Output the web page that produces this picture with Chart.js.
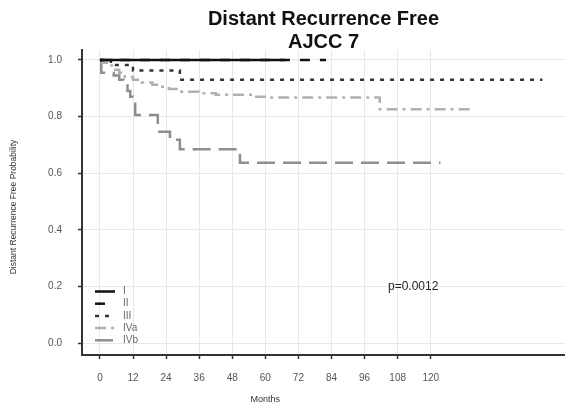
<!DOCTYPE html>
<html>
<head>
<meta charset="utf-8">
<script src="https://cdn.jsdelivr.net/npm/chart.js@4"></script>
<style>
  body { margin: 0; background: #fff; }
  #wrap { width: 565px; height: 406px; }
</style>
</head>
<body>
<div id="wrap"><canvas id="km-chart" width="565" height="406"></canvas></div>
<script>
// stage groups and Kaplan-Meier step points
const stages = ['I', 'II', 'III', 'IVa', 'IVb'];

const monthsI = [0, 67];
const survI = [1, 1];

const monthsII = [0, 82];
const survII = [1, 1];

const monthsIII = [0, 4, 12, 29, 160.5];
const survIII = [1, 0.982, 0.963, 0.93, 0.93];

const monthsIVa = [0, 1, 3, 5, 7, 9, 12, 15, 19, 22, 25, 29, 36, 42, 56, 61, 101.5, 135];
const survIVa = [1, 0.99, 0.98, 0.965, 0.955, 0.94, 0.93, 0.92, 0.912, 0.905, 0.897, 0.888, 0.882, 0.877, 0.87, 0.867, 0.826, 0.826];

const monthsIVb = [0, 0.5, 5, 7, 8.5, 10, 11, 12, 12.8, 21, 25.4, 29, 50.8, 123.5];
const survIVb = [1, 0.955, 0.945, 0.93, 0.91, 0.89, 0.87, 0.845, 0.806, 0.747, 0.718, 0.685, 0.637, 0.637];

const xTicks = [0, 12, 24, 36, 48, 60, 72, 84, 96, 108, 120];
const yTicks = [0, 0.2, 0.4, 0.6, 0.8, 1.0];

const titleLines = ['Distant Recurrence Free', 'AJCC 7'];
const pValue = 'p=0.0012';

const lineColors = ['#111111', '#111111', '#333333', '#b0b0b0', '#8e8e8e'];
const lineDashes = [[], [10, 10], [4, 6], [11, 5, 3, 5], [18, 8]];

const fontFam = '"Liberation Sans", Arial, sans-serif';

function toPoints(months, surv) {
  return months.map((m, i) => ({ x: m, y: surv[i] }));
}

const series = [
  toPoints(monthsI, survI),
  toPoints(monthsII, survII),
  toPoints(monthsIII, survIII),
  toPoints(monthsIVa, survIVa),
  toPoints(monthsIVb, survIVb)
];

const textPlugin = {
  id: 'texts',
  afterDraw(chart) {
    const c = chart.ctx;
    const xs = chart.scales.x;
    const ys = chart.scales.y;
    const area = chart.chartArea;
    c.save();

    // title, centred over the plot area
    c.fillStyle = '#111';
    c.textBaseline = 'alphabetic';
    c.textAlign = 'center';
    c.font = 'bold 20px ' + fontFam;
    const cx = (area.left + area.right) / 2;
    c.fillText(titleLines[0], cx, 24.5);
    c.fillText(titleLines[1], cx, 48);

    // axis titles
    c.fillStyle = '#333';
    c.font = '9px ' + fontFam;
    c.textBaseline = 'middle';
    c.fillText('Months', xs.getPixelForValue(60), 400);
    c.font = '8.5px ' + fontFam;
    c.save();
    c.translate(14, 207);
    c.rotate(-Math.PI / 2);
    c.fillText('Distant Recurrence Free Probability', 0, 0);
    c.restore();

    // p value
    c.fillStyle = '#222';
    c.font = '12px ' + fontFam;
    c.textAlign = 'left';
    c.fillText(pValue, xs.getPixelForValue(104.5), ys.getPixelForValue(0.2));

    // legend
    c.font = '10px ' + fontFam;
    stages.forEach((name, i) => {
      const y = 291.5 + i * 12.2;
      c.beginPath();
      c.strokeStyle = lineColors[i];
      c.lineWidth = 2.5;
      c.setLineDash(lineDashes[i]);
      c.moveTo(95, y);
      c.lineTo(115, y);
      c.stroke();
      c.setLineDash([]);
      c.fillStyle = '#666';
      c.fillText(name, 123, y);
    });

    c.restore();
  }
};

const ctx = document.getElementById('km-chart').getContext('2d');

new Chart(ctx, {
  type: 'line',
  data: {
    datasets: stages.map((name, i) => ({
      label: name,
      data: series[i],
      borderColor: lineColors[i],
      borderDash: lineDashes[i],
      borderWidth: 2.5,
      stepped: 'before',
      pointRadius: 0,
      fill: false
    }))
  },
  options: {
    responsive: false,
    animation: false,
    layout: { padding: { top: 50, right: 0, left: 0, bottom: 0 } },
    plugins: {
      legend: { display: false },
      tooltip: { enabled: false },
      title: { display: false }
    },
    scales: {
      x: {
        type: 'linear',
        min: -6.5,
        max: 168.7,
        afterBuildTicks: (s) => { s.ticks = xTicks.map(v => ({ value: v })); },
        afterFit: (s) => { s.height = 51; },
        grid: { color: '#e8e8e8', lineWidth: 1, tickColor: '#333', tickLength: 4, tickWidth: 1.5 },
        border: { color: '#333', width: 2 },
        ticks: { color: '#555', font: { size: 10, family: fontFam }, padding: 13, maxRotation: 0, autoSkip: false }
      },
      y: {
        min: -0.041,
        max: 1.035,
        afterBuildTicks: (s) => { s.ticks = yTicks.map(v => ({ value: v })); },
        afterFit: (s) => { s.width = 82; },
        grid: { color: '#e8e8e8', lineWidth: 1, tickColor: '#333', tickLength: 4, tickWidth: 1.5 },
        border: { color: '#333', width: 2 },
        ticks: { color: '#555', font: { size: 10, family: fontFam }, padding: 16, callback: (v) => v.toFixed(1) }
      }
    }
  },
  plugins: [textPlugin]
});
</script>
</body>
</html>
